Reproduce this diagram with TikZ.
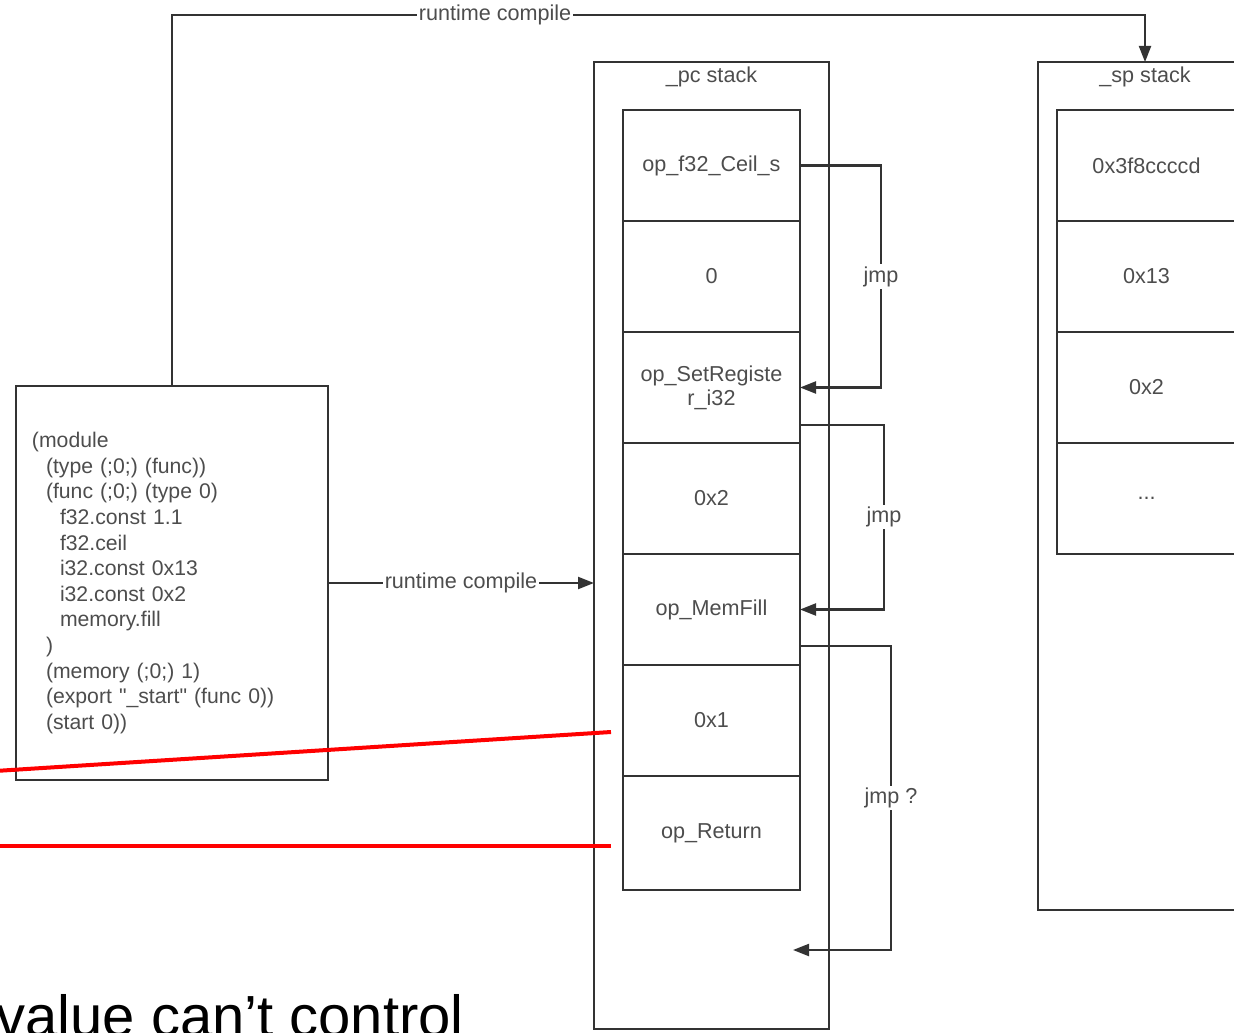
\documentclass[tikz,border=0pt]{standalone}
\usepackage{fontspec}
\setmainfont{Liberation Sans}
\usetikzlibrary{arrows.meta,positioning}
\definecolor{linea}{HTML}{333333}
\definecolor{texto}{HTML}{4D4D4D}

\begin{document}
\begin{tikzpicture}[x=0.5pt, y=-0.5pt, font=\fontsize{10.8}{12}\selectfont,
    frame/.style={draw=linea, line width=1.2pt, inner sep=0pt, outer sep=0pt},
    cell/.style={draw=linea, line width=1.2pt, text=texto, align=center,
                 minimum width=88.5pt, minimum height=55.5pt, inner sep=0pt, outer sep=0pt},
    link/.style={draw=linea, line width=1.1pt, -{Triangle[length=8pt,width=6pt]}},
    lbl/.style={fill=white, text=texto, inner sep=1pt},
    cut/.style={draw=red, line width=2pt}]
  \useasboundingbox (0,0) rectangle (1234,1032);

  % wasm module
  \node[frame, anchor=north west, minimum width=156pt, minimum height=197pt,
        text width=140pt, inner xsep=8pt, align=left, text=texto,
        font=\fontsize{10.6}{12.8}\selectfont] (module) at (16,386)
    {(module\\
     \hspace*{7pt}(type (;0;) (func))\\
     \hspace*{7pt}(func (;0;) (type 0)\\
     \hspace*{14pt}f32.const 1.1\\
     \hspace*{14pt}f32.ceil\\
     \hspace*{14pt}i32.const 0x13\\
     \hspace*{14pt}i32.const 0x2\\
     \hspace*{14pt}memory.fill\\
     \hspace*{7pt})\\
     \hspace*{7pt}(memory (;0;) 1)\\
     \hspace*{7pt}(export \textquotedbl\_start\textquotedbl{} (func 0))\\
     \hspace*{7pt}(start 0))};

  % _pc stack
  \node[frame, anchor=north west, minimum width=117.5pt, minimum height=483.5pt] (pcstack) at (594,62) {};
  \node[text=texto] (pctitle) at ([yshift=-7.5pt]pcstack.north) {\_pc stack};
  \node[cell, anchor=north] (pc1) at (711.5,110) {op\_f32\_Ceil\_s};
  \node[cell, below=0pt of pc1] (pc2) {0};
  \node[cell, below=0pt of pc2] (pc3) {op\_SetRegiste\\r\_i32};
  \node[cell, below=0pt of pc3] (pc4) {0x2};
  \node[cell, below=0pt of pc4] (pc5) {op\_MemFill};
  \node[cell, below=0pt of pc5] (pc6) {0x1};
  \node[cell, below=0pt of pc6, minimum height=57pt] (pc7) {op\_Return};

  % _sp stack
  \node[frame, anchor=north west, minimum width=107pt, minimum height=424pt] (spstack) at (1038,62) {};
  \node[text=texto] (sptitle) at ([yshift=-7.5pt]spstack.north) {\_sp stack};
  \node[cell, anchor=north, minimum width=89.5pt] (sp1) at (1146.5,110) {0x3f8ccccd};
  \node[cell, below=0pt of sp1, minimum width=89.5pt] (sp2) {0x13};
  \node[cell, below=0pt of sp2, minimum width=89.5pt] (sp3) {0x2};
  \node[cell, below=0pt of sp3, minimum width=89.5pt] (sp4) {...};

  % compile arrows
  \coordinate (bend) at (172,15);
  \draw[link] (module.north) -- (bend) -| node[lbl, pos=0.166] {runtime compile} (sptitle.north |- spstack.north);
  \draw[link] (module.east) -- node[lbl] {runtime compile} (module.east -| pcstack.west);

  % jumps
  \draw[link] (pc1.east) -- ++(81,0) |- node[lbl, pos=0.25] {jmp} (pc3.east);
  \draw[link] ([yshift=9pt]pc3.south east) -- ++(84,0) |- node[lbl, pos=0.25] {jmp} (pc5.east);
  \coordinate (jmpend) at (793,950);
  \draw[link] ([yshift=9.5pt]pc5.south east) -- ++(91,0) |- node[lbl, pos=0.25] {jmp ?} (jmpend);

  % red marks
  \coordinate (r1a) at (-5,771);
  \coordinate (r1b) at (611,732);
  \coordinate (r2a) at (-5,846);
  \coordinate (r2b) at (611,846);
  \draw[cut] (r1a) -- (r1b);
  \draw[cut] (r2a) -- (r2b);

  \node[anchor=base west, inner sep=0pt, font=\fontsize{29}{30}\selectfont] (caption) at (-4,1036) {value can’t control};
\end{tikzpicture}
\end{document}
